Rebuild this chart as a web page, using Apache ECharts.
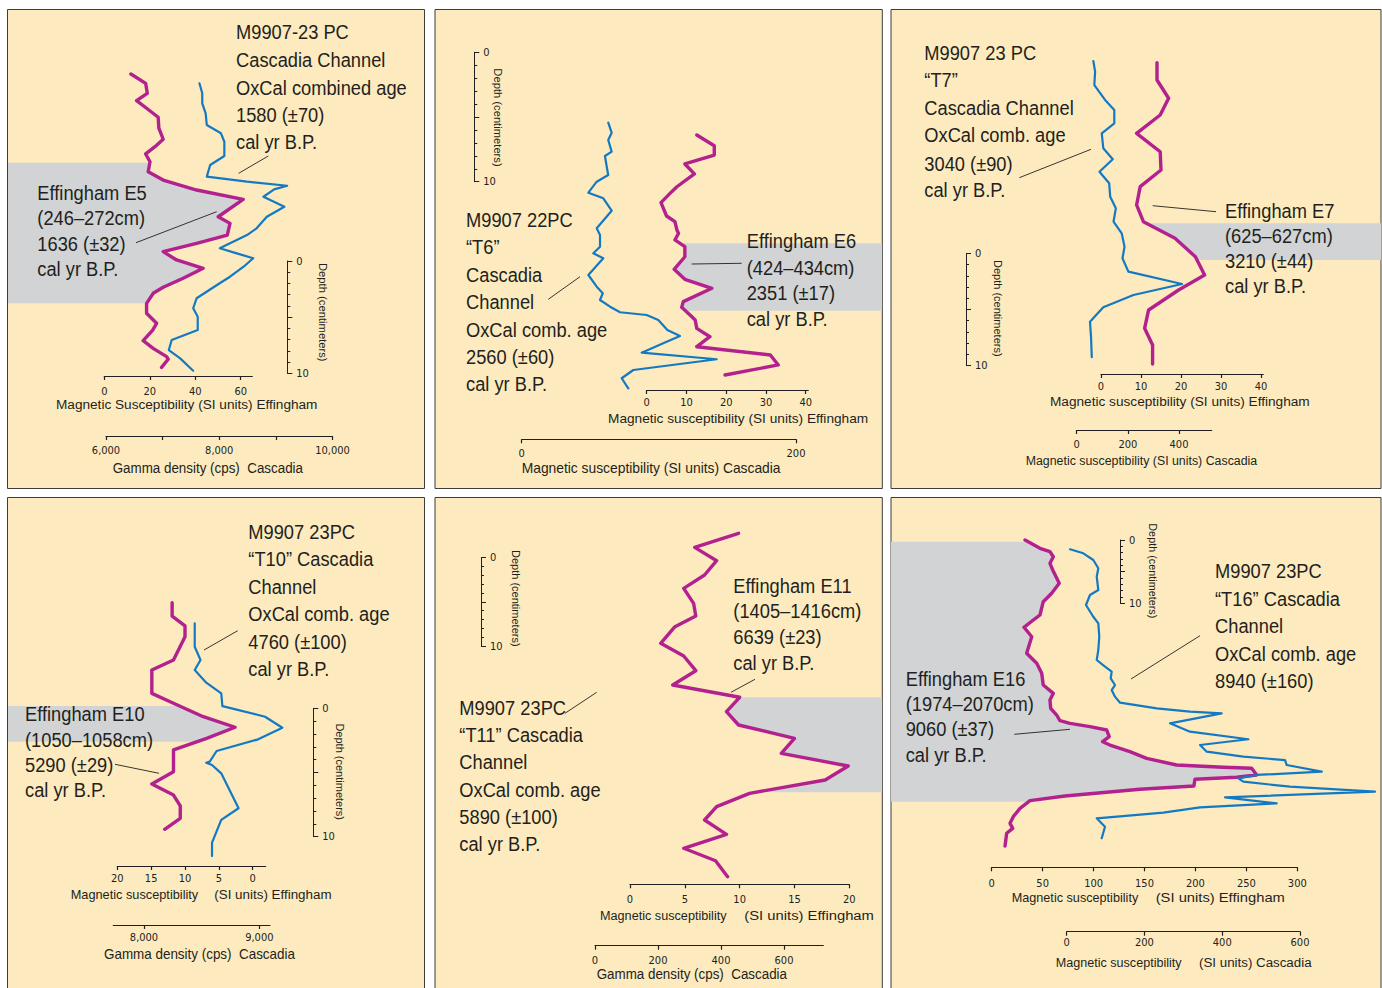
<!DOCTYPE html>
<html><head><meta charset="utf-8">
<script src="https://cdn.jsdelivr.net/npm/echarts@6/dist/echarts.min.js"></script>
<style>html,body{margin:0;padding:0;background:#fff}#c{width:1382px;height:988px}</style>
</head><body><div id="c"></div>
<script>
// ---------------- DATA ----------------
// Panel 1: M9907-23 PC / Effingham E5
const p1MagSI    = [11.7,18.2,18.9,14.2,18.6,23.7,24.0,25.9,22.3,18.2,20.1,19.3,25.9,40.6,61.1,50.1,55.3,54.1,40.6,25.9,31.8,43.5,34.7,25.9,21.5,18.6,18.6,23.0,21.3,17.1,21.5,27.4,28.1,25.2];
const p1MagDepth = [0,0.83,1.72,2.38,3.05,3.85,4.83,5.81,6.47,7.12,7.81,8.7,9.44,10.33,11.16,12.71,13.3,14.34,15.08,15.82,16.56,17.3,18.19,18.99,19.53,20.42,21.31,22.2,22.8,23.75,24.43,25.17,25.4,26.12];
const p1Gamma      = [7650,7700,7700,7760,7780,8030,8090,8090,7840,7780,8490,9200,8970,8780,9150,8840,8660,8490,8190,8010,8310,8600,8430,8190,7960,7600,7540,7620,7620,7160,7110,7310,7540];
const p1GammaDepth = [0.83,1.72,2.61,3.5,4.54,5.28,6.03,7.3,8.1,9.14,9.59,9.95,10.27,10.93,11.82,12.71,13.74,14.34,15.08,15.52,15.97,16.41,17.16,18.05,18.79,19.97,20.86,21.61,22.8,23.69,24.58,25.32,26.42];
const p1Band = [7.9, 20.42];
// Panel 2: M9907 22PC "T6" / Effingham E6
const p2CascSI    = [63.1,65.6,63.1,65.6,60.7,62.0,63.1,54.7,48.6,59.5,65.6,54.7,57.1,57.1,52.2,59.5,48.6,54.7,59.1,57.1,64.4,71.7,91.1,99.6,106.2,115.4,103.2,87.5,142.2,81.4,72.9,77.7];
const p2CascDepth = [0,0.77,1.34,2.24,2.57,3.4,4.04,4.56,5.41,5.84,6.8,8.16,8.68,9.58,10.09,10.48,11.77,12.67,13.18,13.7,14.22,14.65,14.86,15.25,16.02,16.48,17.05,17.77,18.28,19.11,19.75,20.53];
const p2MagSI    = [12.6,17.0,17.0,9.6,12.0,7.6,6.3,3.6,4.2,5.0,7.1,7.6,8.0,7.1,9.6,9.6,6.9,9.6,16.4,9.2,8.8,10.9,12.2,12.6,15.9,12.6,31.1,33.1,19.7];
const p2MagDepth = [0.95,1.78,2.5,3.19,3.96,4.95,5.33,6.18,6.62,7.21,7.65,8.29,8.55,9.06,9.58,10.36,11.33,12.1,12.8,13.83,14.27,14.86,15.25,15.89,16.54,17.31,17.95,18.72,19.5];
const p2Band = [9.32, 14.53];
// Panel 3: M9907 23 PC "T7" / Effingham E7
const p3CascSI    = [65,72,69,111,147,147,98,104,141,89,127,131,153,144,176,187,179,202,412,222,104,52,56,59];
const p3CascDepth = [0,0.95,2.14,3.47,4.36,5.55,6.44,7.77,8.75,9.86,10.89,12.08,13.12,14.31,15.34,16.54,17.57,18.76,19.86,20.84,21.93,23.21,24.55,26.38];
const p3MagSI    = [14.0,14.0,16.9,14.8,8.9,14.8,15.0,9.8,8.9,10.6,18.5,23.6,25.9,19.4,11.9,10.9,12.9,12.9];
const p3MagDepth = [0.15,1.69,3.32,4.81,6.44,8.08,9.71,11.19,12.82,14.31,15.79,17.43,19.06,20.39,22.17,23.8,25.29,26.98];
const p3Band = [14.45, 17.72];
// Panel 4: M9907 23PC "T10" / Effingham E10
const p4MagSI    = [11.9,11.9,10.0,10.0,11.7,14.9,14.9,11.7,7.3,2.6,6.8,11.7,11.7,14.9,11.7,10.7,10.7,13.0];
const p4MagDepth = [0,1.04,1.81,2.65,4.46,5.24,7.06,7.83,8.88,9.7,10.56,11.47,13.16,14.12,14.98,15.83,16.79,17.65];
const p4Gamma      = [8440,8440,8490,8440,8540,8670,8680,9050,9200,8990,8630,8570,8540,8590,8670,8820,8670,8590,8590];
const p4GammaDepth = [1.6,3.43,4.46,5.24,6.23,7.06,8.05,8.88,9.74,10.64,11.55,12.38,12.46,12.64,13.29,16.01,16.92,18.69,19.73];
const p4Band = [8.05, 10.83];
// Panel 5: M9907 23PC "T11" / Effingham E11
const p5MagSI    = [9.9,5.9,7.9,6.8,4.9,5.8,6.0,4.1,2.8,4.9,6.0,3.9,10.0,8.8,9.9,15.0,13.8,19.9,17.8,10.9,7.9,6.8,8.8,4.9,7.8,8.9];
const p5MagDepth = [0,1.59,3.1,4.72,6.23,7.93,9.37,10.58,12.46,13.9,15.56,17.18,18.57,20.2,21.71,23.22,24.92,26.35,27.94,29.45,30.96,32.47,34.09,35.67,37.08,38.89];
const p5Band = [18.57, 29.33];
// Panel 6: M9907 23PC "T16" / Effingham E16
const p6MagSI    = [32.7,47.4,57.2,60.5,57.2,59.9,66.3,58.9,50.6,47.4,40.8,31.7,39.3,34.3,44.2,49.1,50.6,60.5,57.2,57.9,63.8,67.0,76.8,96.5,112.9,115.4,108.9,116.1,135.7,152.1,181.5,227.3,255.2,260.1,240.4,199.5,198.5,145.5,71.9,37.6,27.8,21.2,18.0,20.6,14.7,13.1];
const p6MagDepth = [0,1.31,1.85,2.64,3.68,4.74,6.84,8.42,9.75,11.85,12.64,13.79,15.28,17.9,19.48,21.06,22.91,24.22,25.28,26.59,27.65,28.55,28.96,29.49,30.02,31.07,31.86,32.39,33.44,34.49,35.55,35.91,36.07,37.12,37.49,37.8,38.86,39.38,40.44,41.18,42.39,43.71,44.76,45.55,46.33,48.34];
const p6CascSI    = [8.5,42.7,68.4,81.3,77.2,81.3,59.9,49.6,68.4,81.3,83.8,81.3,77.2,98.5,115.7,113.2,124.2,115.7,124.2,137.1,231.5,317.1,398.7,265.7,317.1,467.1,342.9,360.1,454.2,561.5,565.8,655.9,488.7,441.4,454.2,574.3,793.0,407.2,540.1,342.9,248.5,77.2,98.5,90.0];
const p6CascDepth = [1.47,2.1,3.16,4.47,5.8,7.9,8.69,10.27,12.12,13.16,15.28,17.38,18.96,20.02,20.81,21.85,22.91,23.7,24.75,25.7,26.59,27.12,27.38,28.96,30.28,31.48,32.39,33.44,34.23,34.76,35.55,36.6,37.12,37.65,38.18,38.97,39.76,40.65,41.6,42.23,43.08,43.97,45.29,47.12];
const p6Band = [0.27, 41.34];

// tick values / labels
const p1MsTicks = [0,20,40,60];
const p1GammaTicks = [6000,7000,8000,9000,10000];
const p1GammaLabels = [6000,8000,10000];
const p2MsTicks = [0,10,20,30,40];
const p2CascTicks = [0,200];
const p3MsTicks = [0,10,20,30,40];
const p3CascTicks = [0,200,400];
const p4MsTicks = [20,15,10,5,0];
const p4GammaTicks = [8000,9000];
const p5MsTicks = [0,5,10,15,20];
const p5GammaTicks = [0,200,400,600];
const p6MsTicks = [0,50,100,150,200,250,300];
const p6CascTicks = [0,200,400,600];
const depthTicks = [0,10];

// text
const p1Title = ['M9907-23 PC','Cascadia Channel','OxCal combined age','1580 (±70)','cal yr B.P.'];
const p1Event = ['Effingham E5','(246–272cm)','1636 (±32)','cal yr B.P.'];
const p2Title = ['M9907 22PC','“T6”','Cascadia','Channel','OxCal comb. age','2560 (±60)','cal yr B.P.'];
const p2Event = ['Effingham E6','(424–434cm)','2351 (±17)','cal yr B.P.'];
const p3Title = ['M9907 23 PC','“T7”','Cascadia Channel','OxCal comb. age','3040 (±90)','cal yr B.P.'];
const p3Event = ['Effingham E7','(625–627cm)','3210 (±44)','cal yr B.P.'];
const p4Title = ['M9907 23PC','“T10” Cascadia','Channel','OxCal comb. age','4760 (±100)','cal yr B.P.'];
const p4Event = ['Effingham E10','(1050–1058cm)','5290 (±29)','cal yr B.P.'];
const p5Title = ['M9907 23PC','“T11” Cascadia','Channel','OxCal comb. age','5890 (±100)','cal yr B.P.'];
const p5Event = ['Effingham E11','(1405–1416cm)','6639 (±23)','cal yr B.P.'];
const p6Title = ['M9907 23PC','“T16” Cascadia','Channel','OxCal comb. age','8940 (±160)'];
const p6Event = ['Effingham E16','(1974–2070cm)','9060 (±37)','cal yr B.P.'];
const depthTitle = 'Depth (centimeters)';

// ---------------- STYLE / LAYOUT ----------------
const FONT = "'Liberation Sans', Arial, Helvetica, sans-serif";
const NARROW = "'Liberation Sans Narrow','DejaVu Sans Condensed','Liberation Sans',Arial,sans-serif";
const INK = '#231f20', MAG = '#b2218e', BLUE = '#1479c3', BAND = '#d1d3d4', BG = '#fdebbf', FRAME = '#3d3d3f';

const panels = [
 { frame:[7.5,9.5,417,479], top:74, cm:11.23,
   mag:{vals:p1MagSI, dep:p1MagDepth, left:104.3, right:252.3, y:376, cal:[0,104.3,60,240.7], ticks:p1MsTicks, labels:p1MsTicks, m:9.5},
   sec:{vals:p1Gamma, dep:p1GammaDepth, left:106, right:332.5, y:436, cal:[6000,106,10000,332.5], ticks:p1GammaTicks, labels:p1GammaLabels, m:8.5},
   depth:[287.3,261,373.3], band:p1Band, edge:8,
   title:{x:236, ys:[31.7,59.3,87.3,114.3,141.7], lines:p1Title},
   event:{x:37.3, ys:[192.7,217.3,243.3,268.3], lines:p1Event},
   leaders:[[268.3,156,238.7,173.3],[136,242.7,216.7,211.7]],
   axTitles:[['Magnetic Susceptibility (SI units) Effingham',56,317.7,405,13.5],['Gamma density (cps)  Cascadia',112.7,303.3,468,14.5]],
   dTitle:[323,312.3,98.7] },
 { frame:[435,9.5,447.3,479], top:122.7, cm:12.94,
   mag:{vals:p2MagSI, dep:p2MagDepth, left:646.7, right:808.3, y:390, cal:[0,646.7,40,805.7], ticks:p2MsTicks, labels:p2MsTicks, m:7.2},
   sec:{vals:p2CascSI, dep:p2CascDepth, left:521.7, right:796, y:439.3, cal:[0,521.7,200,796], ticks:p2CascTicks, labels:p2CascTicks, m:8.5},
   depth:[474.3,52.3,181.7], band:p2Band, edge:882,
   title:{x:466, ys:[220,246.7,275,301.7,330,356.7,384], lines:p2Title},
   event:{x:746.7, ys:[240.7,267.3,292.3,318.3], lines:p2Event},
   leaders:[[548.3,299.3,580,276.7],[691.7,264,741.7,263.3]],
   axTitles:[['Magnetic susceptibility (SI units) Effingham',608,868.3,418.3,13.5],['Magnetic susceptibility (SI units) Cascadia',521.7,780.7,468.3,14.5]],
   dTitle:[498.3,117.5,98.4] },
 { frame:[891,9.5,490,479], top:61, cm:11.23,
   mag:{vals:p3MagSI, dep:p3MagDepth, left:1101, right:1263.3, y:374, cal:[0,1101,40,1261], ticks:p3MsTicks, labels:p3MsTicks, m:6.5},
   sec:{vals:p3CascSI, dep:p3CascDepth, left:1076.7, right:1211.7, y:430, cal:[0,1076.7,400,1179], ticks:p3CascTicks, labels:p3CascTicks, m:8.8},
   depth:[966,253.3,365.7], band:p3Band, edge:1381,
   title:{x:924.3, ys:[52.7,80,107.3,135,163.3,190], lines:p3Title},
   event:{x:1225, ys:[210.7,235.7,260.7,286], lines:p3Event},
   leaders:[[1019.3,177.7,1091,149.3],[1152.7,205.7,1216,211.7]],
   axTitles:[['Magnetic susceptibility (SI units) Effingham',1050,1310,401.7,13.5],['Magnetic susceptibility (SI units) Cascadia',1025.7,1257.3,460,13.5]],
   dTitle:[998.3,308.3,96.7] },
 { frame:[7.5,497.5,417,500], top:602.7, cm:12.84,
   mag:{vals:p4MagSI, dep:p4MagDepth, left:117.3, right:265.7, y:866, cal:[20,117.3,0,252.7], ticks:p4MsTicks, labels:p4MsTicks, m:6.8},
   sec:{vals:p4Gamma, dep:p4GammaDepth, left:113.3, right:270, y:925, cal:[8000,144,9000,259.3], ticks:p4GammaTicks, labels:p4GammaTicks, m:7.2},
   depth:[313.3,708.3,836.7], band:p4Band, edge:8,
   title:{x:248.3, ys:[531.7,559,586.7,614,641.7,668.3], lines:p4Title},
   event:{x:25, ys:[713.3,739.3,765,790], lines:p4Event},
   leaders:[[237.7,630.7,204,650],[115,764.3,159,773.3]],
   axTitles:[['Magnetic susceptibility',70.7,198.3,894.3,13.5],['(SI units) Effingham',214.3,331.7,894.3,13.5],['Gamma density (cps)  Cascadia',104,295,954.3,14.5]],
   dTitle:[340,771.7,96.7] },
 { frame:[435,497.5,447.3,500], top:533.3, cm:8.83,
   mag:{vals:p5MagSI, dep:p5MagDepth, left:630, right:849.3, y:884.3, cal:[0,630,20,849.3], ticks:p5MsTicks, labels:p5MsTicks, m:9.5},
   sec:{vals:null, dep:null, left:595, right:823.3, y:945.7, cal:[0,595,600,784], ticks:p5GammaTicks, labels:p5GammaTicks, m:8.8},
   depth:[481,557.7,646], band:p5Band, edge:882,
   title:{x:459.3, ys:[707.3,734.3,761.7,789.3,816.7,843.3], lines:p5Title},
   event:{x:733.3, ys:[586,610.7,636.7,662.7], lines:p5Event},
   leaders:[[755,679.3,731,692.3],[565,713.3,596.7,692.3]],
   axTitles:[['Magnetic susceptibility',600,726.7,915,13.5],['(SI units) Effingham',744.3,874,915,13.5],['Gamma density (cps)  Cascadia',596.7,787.3,974.3,14.5]],
   dTitle:[516,598.3,96.7] },
 { frame:[891,497.5,490,500], top:540, cm:6.33,
   mag:{vals:p6MagSI, dep:p6MagDepth, left:991.7, right:1297.3, y:867.3, cal:[0,991.7,300,1297.3], ticks:p6MsTicks, labels:p6MsTicks, m:10.5},
   sec:{vals:p6CascSI, dep:p6CascDepth, left:1066.7, right:1300, y:931.7, cal:[0,1066.7,600,1300], ticks:p6CascTicks, labels:p6CascTicks, m:5.5},
   depth:[1120,540,603.3], band:p6Band, edge:891,
   title:{x:1215, ys:[571,598.3,626,653.3,680.7], lines:p6Title},
   event:{x:905.7, ys:[678.3,703.3,729,755], lines:p6Event},
   leaders:[[1200,635.7,1131,679],[1014.3,734.3,1070,729.3]],
   axTitles:[['Magnetic susceptibility',1011.7,1138.3,897.3,13.5],['(SI units) Effingham',1155.7,1285,897.3,13.5],['Magnetic susceptibility',1055.7,1181.7,962.3,13.5],['(SI units) Cascadia',1199,1311.7,962.3,13.5]],
   dTitle:[1153.3,570.8,95] }
];

// ---------------- BUILD ----------------
const ctx = document.createElement('canvas').getContext('2d');
function measure(str, size){ ctx.font = size + 'px ' + FONT; return ctx.measureText(str).width; }
const ANN = 21;
const annScale = ((175.7/measure('OxCal combined age',ANN)) + (109.3/measure('Effingham E5',ANN)) + (109.7/measure('M9907-23 PC',ANN)))/3;

const grids=[], xAxes=[], yAxes=[], series=[], graphics=[];
const fmt = v => Number(v).toLocaleString('en-US');

// visible axis (no data), grid spans exactly the drawn axis line
function addAxisGrid(a, top, cm){
  const [v0,p0,v1,p1] = a.cal;
  const s = (p1-p0)/(v1-v0);
  const vl = v0 + (a.left-p0)/s, vr = v0 + (a.right-p0)/s;
  const gi = grids.length;
  grids.push({left:a.left, top:top, width:a.right-a.left, height:a.y-top});
  xAxes.push({gridIndex:gi, type:'value', min:Math.min(vl,vr), max:Math.max(vl,vr), inverse:s<0, position:'bottom',
    axisLine:{show:true, onZero:false, lineStyle:{color:INK, width:1.2}},
    axisTick:{show:true, length:4, inside:false, lineStyle:{color:INK, width:1.2}, customValues:a.ticks},
    axisLabel:{show:true, customValues:a.labels, margin:a.m, color:INK, fontSize:11, fontFamily:NARROW, formatter:fmt},
    splitLine:{show:false}, minorTick:{show:false}});
  yAxes.push({gridIndex:gi, type:'value', min:0, max:(a.y-top)/cm, inverse:true, show:false, splitLine:{show:false}});
  return gi;
}
// data grid: same value scale as the visible axis, but spanning the whole panel so nothing is clipped
function addDataGrid(a, top, cm, frame){
  const [v0,p0,v1,p1] = a.cal;
  const s = (p1-p0)/(v1-v0);
  const L = frame[0], R = frame[0]+frame[2];
  const vl = v0 + (L-p0)/s, vr = v0 + (R-p0)/s;
  const gi = grids.length;
  grids.push({left:L, top:top, width:R-L, height:a.y-top});
  xAxes.push({gridIndex:gi, type:'value', min:Math.min(vl,vr), max:Math.max(vl,vr), inverse:s<0, show:false, splitLine:{show:false}});
  yAxes.push({gridIndex:gi, type:'value', min:0, max:(a.y-top)/cm, inverse:true, show:false, splitLine:{show:false}});
  return gi;
}
function addLine(gi, vals, dep, color, width){
  series.push({type:'line', xAxisIndex:gi, yAxisIndex:gi, data:vals.map((v,i)=>[v,dep[i]]), symbol:'none', showSymbol:false,
    lineStyle:{color, width, join:'round', cap:'round'}, clip:false, z:3, silent:true, animation:false});
}
function addBand(gi, vals, dep, band, edgeX){
  const interp = d => {
    for (let i=0;i<dep.length-1;i++){ const a=dep[i], b=dep[i+1];
      if (d>=a && d<=b){ const t=(b===a)?0:(d-a)/(b-a); return vals[i]+t*(vals[i+1]-vals[i]); } }
    return vals[0];
  };
  series.push({type:'custom', xAxisIndex:gi, yAxisIndex:gi, data:[[vals[0], dep[0]]], clip:false, z:1, silent:true, animation:false,
    renderItem(params, api){
      const top = api.coord([interp(band[0]), band[0]]);
      const bot = api.coord([interp(band[1]), band[1]]);
      const pts = [[edgeX, top[1]], top];
      dep.forEach((d,i)=>{ if (d>band[0] && d<band[1]) pts.push(api.coord([vals[i], d])); });
      pts.push(bot, [edgeX, bot[1]]);
      return {type:'polygon', shape:{points:pts}, style:{fill:BAND}};
    }});
}
function addDepthBar(x, y0, y10){
  const gi = grids.length;
  grids.push({left:x, top:y0, width:2, height:y10-y0});
  xAxes.push({gridIndex:gi, type:'value', show:false, min:0, max:1});
  yAxes.push({gridIndex:gi, type:'value', min:0, max:10, interval:5, inverse:true, position:'left',
    axisLine:{show:true, onZero:false, lineStyle:{color:INK, width:1}},
    axisTick:{show:true, inside:true, length:5, lineStyle:{color:INK, width:1}},
    minorTick:{show:true, splitNumber:5, length:3, lineStyle:{color:INK, width:1}},
    axisLabel:{show:true, inside:true, customValues:depthTicks, margin:9, color:INK, fontSize:11, fontFamily:NARROW},
    splitLine:{show:false}, minorSplitLine:{show:false}});
}
function addText(x, y, str, size, scale, rot, align){
  graphics.push({type:'text', x, y, scaleX:scale, scaleY:1, rotation:rot||0, z:100, silent:true,
    style:{text:str, fill:INK, fontSize:size, fontFamily:FONT, align:align||'left', verticalAlign:'middle', textAlign:align||'left', textVerticalAlign:'middle'}});
}

panels.forEach(p => {
  const [fx,fy,fw,fh] = p.frame;
  graphics.push({type:'rect', shape:{x:fx,y:fy,width:fw,height:fh}, style:{fill:BG, stroke:FRAME, lineWidth:1}, z:-10, silent:true});
  addAxisGrid(p.mag, p.top, p.cm);
  addAxisGrid(p.sec, p.top, p.cm);
  const dm = addDataGrid(p.mag, p.top, p.cm, p.frame);
  addBand(dm, p.mag.vals, p.mag.dep, p.band, p.edge);
  addLine(dm, p.mag.vals, p.mag.dep, MAG, 3.4);
  if (p.sec.vals) {
    const ds = addDataGrid(p.sec, p.top, p.cm, p.frame);
    addLine(ds, p.sec.vals, p.sec.dep, BLUE, 2.2);
  }
  addDepthBar(p.depth[0], p.depth[1], p.depth[2]);
  p.title.lines.forEach((s,i)=> addText(p.title.x, p.title.ys[i], s, ANN, annScale));
  p.event.lines.forEach((s,i)=> addText(p.event.x, p.event.ys[i], s, ANN, annScale));
  p.leaders.forEach(l => graphics.push({type:'line', shape:{x1:l[0],y1:l[1],x2:l[2],y2:l[3]}, style:{stroke:INK, lineWidth:0.9}, z:100, silent:true}));
  p.axTitles.forEach(t => addText(t[1], t[3], t[0], t[4], (t[2]-t[1])/measure(t[0], t[4])));
  addText(p.dTitle[0], p.dTitle[1], depthTitle, 11, p.dTitle[2]/measure(depthTitle, 11), -Math.PI/2, 'center');
});

const chart = echarts.init(document.getElementById('c'), null, {renderer:'svg', width:1382, height:988});
chart.setOption({
  animation:false,
  backgroundColor:'#ffffff',
  grid:grids, xAxis:xAxes, yAxis:yAxes, series, graphic:{elements:graphics}
});
</script></body></html>
